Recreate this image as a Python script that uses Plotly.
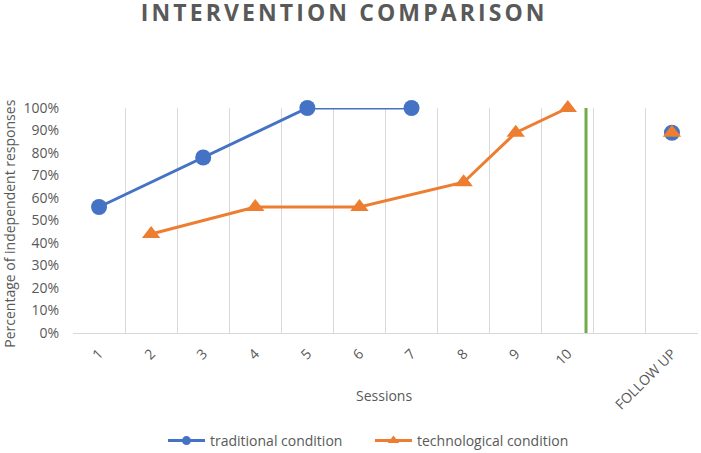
import plotly.graph_objects as go

# ---- data ----
categories = ["1", "2", "3", "4", "5", "6", "7", "8", "9", "10", "", "FOLLOW UP"]
traditional = [0.56, None, 0.78, None, 1.00, None, 1.00, None, None, None, None, None]
technological = [None, 0.44, None, 0.56, None, 0.56, None, 0.67, 0.89, 1.00, None, None]
followup_traditional = 0.89
followup_technological = 0.89
y_ticks = [0, 0.1, 0.2, 0.3, 0.4, 0.5, 0.6, 0.7, 0.8, 0.9, 1.0]
phase_change = 10.35  # position of the green phase-change line (category units)

BLUE = "#4472C4"
ORANGE = "#ED7D31"
GREEN = "#70AD47"
GRID = "#D9D9D9"
TXT = "#595959"
FONT = "Open Sans"

x = list(range(1, len(categories) + 1))
fu_x = x[categories.index("FOLLOW UP")]

fig = go.Figure()
fig.add_trace(go.Scatter(
    x=x, y=traditional, mode="lines+markers", name="traditional condition",
    connectgaps=True, cliponaxis=False, showlegend=False,
    line=dict(color=BLUE, width=3),
    marker=dict(symbol="circle", size=16, color=BLUE),
))
fig.add_trace(go.Scatter(
    x=x, y=technological, mode="lines+markers", name="technological condition",
    connectgaps=True, cliponaxis=False, showlegend=False,
    line=dict(color=ORANGE, width=3),
    marker=dict(symbol="triangle-up", size=16, color=ORANGE),
))
fig.add_trace(go.Scatter(
    x=[fu_x], y=[followup_traditional], mode="markers", showlegend=False,
    cliponaxis=False, marker=dict(symbol="circle", size=16, color=BLUE),
))
fig.add_trace(go.Scatter(
    x=[fu_x], y=[followup_technological], mode="markers", showlegend=False,
    cliponaxis=False, marker=dict(symbol="triangle-up", size=16, color=ORANGE),
))
# legend entries (smaller symbols, as in the reference legend)
fig.add_trace(go.Scatter(
    x=[None], y=[None], mode="lines+markers", name="traditional condition",
    line=dict(color=BLUE, width=3), marker=dict(symbol="circle", size=9, color=BLUE),
))
fig.add_trace(go.Scatter(
    x=[None], y=[None], mode="lines+markers", name="technological condition",
    line=dict(color=ORANGE, width=3), marker=dict(symbol="triangle-up", size=10, color=ORANGE),
))

fig.add_shape(type="line", xref="x", yref="y", x0=phase_change, x1=phase_change,
              y0=0, y1=1.01, line=dict(color=GREEN, width=3))

fig.update_layout(
    width=701, height=453,
    margin=dict(l=73, r=3, t=108, b=120, autoexpand=False),
    paper_bgcolor="white", plot_bgcolor="white",
    font=dict(family=FONT, size=14, color=TXT),
    showlegend=True,
    title=dict(text='<span style="letter-spacing:3.1px"><b>INTERVENTION COMPARISON</b></span>',
               x=0.491, xanchor="center", xref="container",
               y=0.9724, yanchor="middle", yref="container",
               font=dict(family=FONT, size=23, color=TXT)),
    legend=dict(orientation="h", xref="container", yref="container",
                x=0.2325, xanchor="left", y=0.0265, yanchor="middle",
                font=dict(family=FONT, size=14, color=TXT), itemwidth=37,
                entrywidth=155, bgcolor="rgba(0,0,0,0)"),
    xaxis=dict(
        range=[0.5, len(categories) + 0.5], automargin=False,
        tickmode="array", tickvals=x, ticktext=categories, tickangle=-45,
        showgrid=False, zeroline=False,
        showline=True, linecolor=GRID, linewidth=1,
        ticks="", ticklabelstandoff=6,
        tickfont=dict(family=FONT, size=14, color=TXT),
        minor=dict(tickvals=[v - 0.5 for v in x] + [x[-1] + 0.5],
                   showgrid=True, gridcolor=GRID, gridwidth=1, ticks=""),
    ),
    yaxis=dict(
        range=[0, 1], automargin=False,
        tickmode="array", tickvals=y_ticks, tickformat=".0%",
        showgrid=False, zeroline=False, showline=False, ticks="",
        ticklabelstandoff=13,
        tickfont=dict(family=FONT, size=14, color=TXT),
    ),
    annotations=[
        dict(text="Sessions", xref="paper", yref="paper", x=0.498, y=-0.2756,
             xanchor="center", yanchor="middle", showarrow=False,
             font=dict(family=FONT, size=14, color=TXT)),
        dict(text="Percentage of independent responses", xref="paper", yref="paper",
             x=-0.103, y=0.484, xanchor="center", yanchor="middle", textangle=-90,
             showarrow=False, font=dict(family=FONT, size=14, color=TXT)),
    ],
)

fig.write_html("out.html", config={"displayModeBar": False},
               post_script="document.body.style.margin='0px';")
